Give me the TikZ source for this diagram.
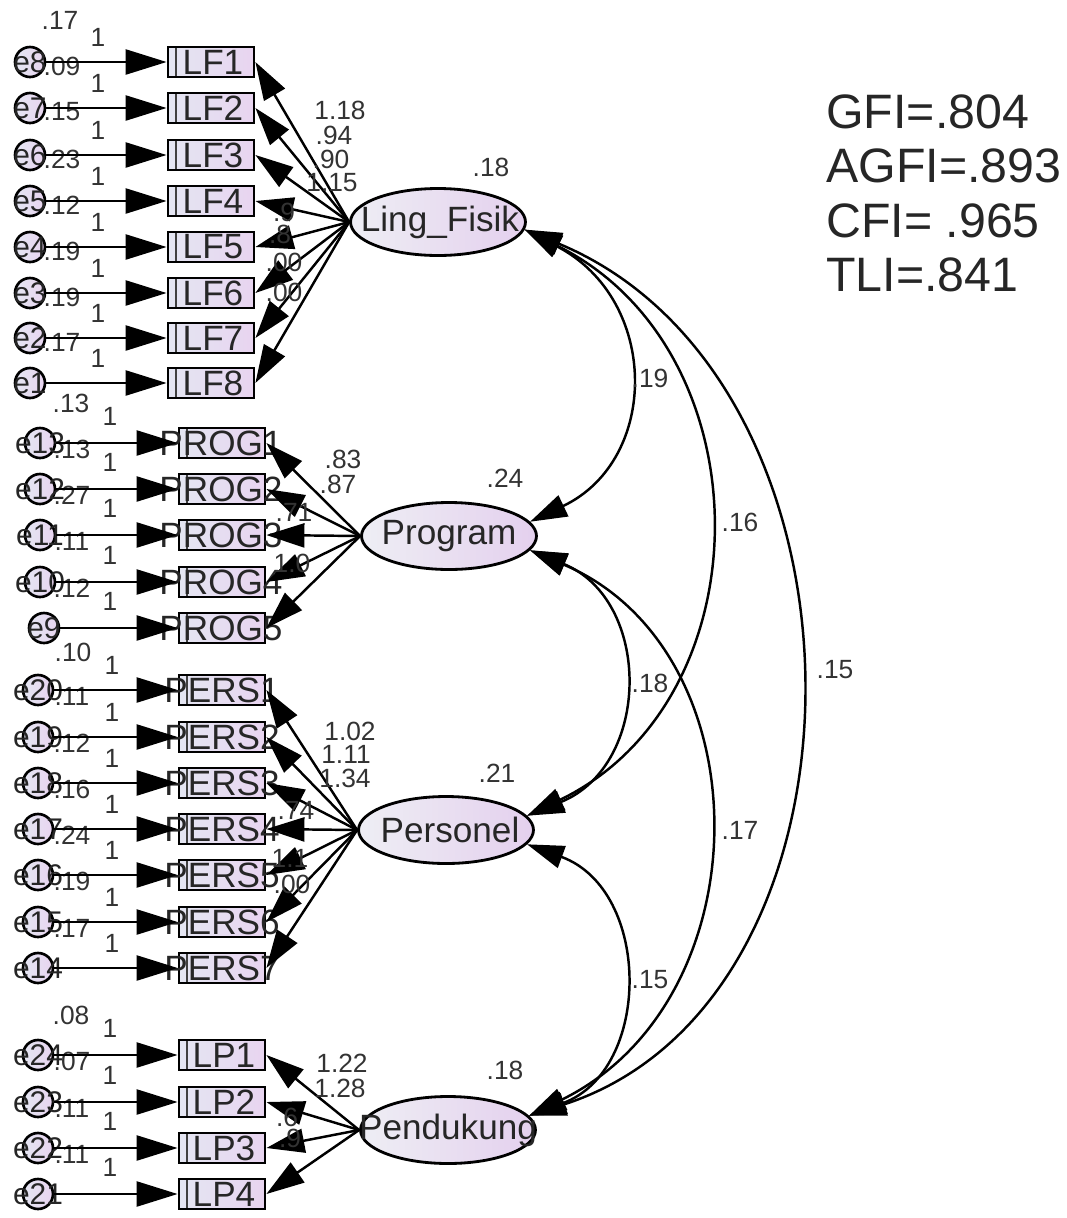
\documentclass[tikz,border=0pt]{standalone}
\usepackage{fontspec}
\setmainfont{Liberation Sans}
\usetikzlibrary{arrows.meta,shapes.geometric}
\definecolor{boxL}{HTML}{E4E6F2}
\definecolor{boxR}{HTML}{E8D4F0}
\definecolor{latL}{HTML}{EEEEF4}
\definecolor{latR}{HTML}{E4D0EE}
\definecolor{numc}{HTML}{333333}
\tikzset{
  obs/.style={draw=black, line width=1.6pt, minimum width=1.72cm, minimum height=0.6cm, inner sep=0,
    left color=boxL, right color=boxR,
    path picture={\draw[line width=0.8pt,black!75] ([xshift=0.16cm]path picture bounding box.north west) -- ([xshift=0.16cm]path picture bounding box.south west);}},
  obstxt/.style={font=\fontsize{20}{22}\selectfont, inner sep=0, text=black!85},
  err/.style={circle, draw=black, line width=1.5pt, minimum size=0.6cm, inner sep=0, left color=boxL, right color=boxR},
  etxt/.style={font=\fontsize{17}{19}\selectfont, inner sep=0, text=black!85},
  lat/.style={ellipse, draw=black, line width=1.6pt, minimum width=3.5cm, minimum height=1.34cm, inner sep=0,
    left color=latL, right color=latR},
  lattxt/.style={font=\fontsize{20}{22}\selectfont, inner sep=0, text=black!85},
  num/.style={font=\fontsize{15}{17}\selectfont, text=numc, inner sep=0},
  stat/.style={font=\fontsize{27.5}{31}\selectfont, text=black!85, inner sep=0, align=left},
  ar/.style={line width=1.4pt, -{Triangle[length=0.82cm,width=0.5cm]}},
  lo/.style={line width=1.4pt, -{Triangle[length=0.76cm,width=0.48cm]}},
  cov/.style={line width=1.4pt, {Triangle[length=0.74cm,width=0.46cm]}-{Triangle[length=0.74cm,width=0.46cm]}},
}
\begin{document}
\begin{tikzpicture}[x=0.02cm,y=-0.02cm]
\path[use as bounding box] (0,0) rectangle (1066,1218);

% latent variables
\node[lat] (LF) at (438,222) {};
\node[lattxt] (LFt) at (440,222) {Ling\_Fisik};
\node[lat] (PR) at (449,536) {};
\node[lattxt] (PRt) at (449,536) {Program};
\node[lat] (PE) at (446,830) {};
\node[lattxt] (PEt) at (450,830) {Personel};
\node[lat] (PD) at (448,1130) {};
\node[lattxt] (PDt) at (448,1130) {Pendukung};

\node[num] (vLF) at (491,167) {.18};
\node[num] (vPR) at (505,478) {.24};
\node[num] (vPE) at (497,773) {.21};
\node[num] (vPD) at (505,1070) {.18};

% Ling_Fisik indicators
\foreach \i/\y/\e/\v in {1/62/8/.09, 2/108/7/.15, 3/155/6/.23, 4/201/5/.12, 5/247/4/.19, 6/293/3/.19, 7/338/2/.17, 8/383/1/{}}{
  \node[obs] (lf\i) at (211,\y) {};
  \node[obstxt] (lf\i t) at (213,\y) {LF\i};
  \node[num] (ve\e) at (62,\y+4) {\v};
  \node[err] (e\e) at (30,\y) {};
  \node[etxt] (e\e t) at (e\e) {e\e};
  \node[num] (one\e) at (98,\y-25) {1};
  \draw[ar] (e\e) -- (lf\i.west);
  \draw[lo] (LF.west) -- (lf\i.east);
}
\node[num] (tv1) at (60,20) {.17};

% Program indicators
\foreach \i/\y/\e/\v/\cx in {1/443/13/.13/40, 2/489/12/.27/40, 3/535/11/.11/40, 4/582/10/.12/40, 5/628/9/{}/44}{
  \node[obs] (pr\i) at (222,\y) {};
  \node[obstxt] (pr\i t) at (221,\y) {PROG\i};
  \node[num] (ve\e) at (72,\y+6) {\v};
  \node[err] (e\e) at (\cx,\y) {};
  \node[etxt] (e\e t) at (e\e) {e\e};
  \node[num] (one\e) at (110,\y-27) {1};
  \draw[ar] (e\e) -- (pr\i.west);
  \draw[lo] (PR.west) -- (pr\i.east);
}
\node[num] (tv2) at (71,403) {.13};

% Personel indicators
\foreach \i/\y/\e/\v in {1/690/20/.11, 2/737/19/.12, 3/783/18/.16, 4/829/17/.24, 5/875/16/.19, 6/922/15/.17, 7/968/14/{}}{
  \node[obs] (pe\i) at (222,\y) {};
  \node[obstxt] (pe\i t) at (222,\y) {PERS\i};
  \node[num] (ve\e) at (72,\y+6) {\v};
  \node[err] (e\e) at (38,\y) {};
  \node[etxt] (e\e t) at (e\e) {e\e};
  \node[num] (one\e) at (112,\y-25) {1};
  \draw[ar] (e\e) -- (pe\i.west);
  \draw[lo] (PE.west) -- (pe\i.east);
}
\node[num] (tv3) at (73,652) {.10};

% Pendukung indicators
\foreach \i/\y/\e/\v in {1/1055/24/.07, 2/1102/23/.11, 3/1148/22/.11, 4/1194/21/{}}{
  \node[obs] (lp\i) at (222,\y) {};
  \node[obstxt] (lp\i t) at (224,\y) {LP\i};
  \node[num] (ve\e) at (72,\y+6) {\v};
  \node[err] (e\e) at (38,\y) {};
  \node[etxt] (e\e t) at (e\e) {e\e};
  \node[num] (one\e) at (110,\y-27) {1};
  \draw[ar] (e\e) -- (lp\i.west);
  \draw[lo] (PD.west) -- (lp\i.east);
}
\node[num] (tv4) at (71,1015) {.08};

% loadings
\node[num] (l1) at (340,110) {1.18};
\node[num] (l2) at (334,135) {.94};
\node[num] (l3) at (331,159) {.90};
\node[num] (l4) at (332,183) {1.15};
\node[num] (l5) at (284,212) {.9};
\node[num] (l6) at (280,234) {.8};
\node[num] (l7) at (284,262) {.00};
\node[num] (l8) at (284,292) {.00};

\node[num] (p1) at (343,459) {.83};
\node[num] (p2) at (338,484) {.87};
\node[num] (p3) at (294,512) {.71};
\node[num] (p4) at (292,563) {1.0};

\node[num] (q1) at (350,731) {1.02};
\node[num] (q2) at (346,754) {1.11};
\node[num] (q3) at (345,778) {1.34};
\node[num] (q4) at (296,810) {.74};
\node[num] (q5) at (290,858) {1.1};
\node[num] (q6) at (292,884) {.00};

\node[num] (r1) at (342,1063) {1.22};
\node[num] (r2) at (340,1088) {1.28};
\node[num] (r3) at (287,1117) {.6};
\node[num] (r4) at (290,1138) {.9};

% covariances
\draw[cov] (LF.-5) .. controls (660,300) and (660,460) .. (PR.10);
\draw[cov] (LF.-5) .. controls (767,350) and (767,700) .. (PE.10);
\draw[cov] (LF.-5) .. controls (887,380) and (887,1000) .. (PD.10);
\draw[cov] (PR.-10) .. controls (652,600) and (652,765) .. (PE.10);
\draw[cov] (PR.-10) .. controls (765,650) and (765,1000) .. (PD.10);
\draw[cov] (PE.-10) .. controls (652,890) and (652,1070) .. (PD.10);

\node[num] (c1) at (650,378) {.19};
\node[num] (c2) at (740,522) {.16};
\node[num] (c3) at (835,670) {.15};
\node[num] (c4) at (650,683) {.18};
\node[num] (c5) at (740,830) {.17};
\node[num] (c6) at (650,980) {.15};

% fit statistics
\node[stat, anchor=north west] (fit) at (826,94) {GFI=.804\\AGFI=.893\\CFI= .965\\TLI=.841};
\end{tikzpicture}
\end{document}
